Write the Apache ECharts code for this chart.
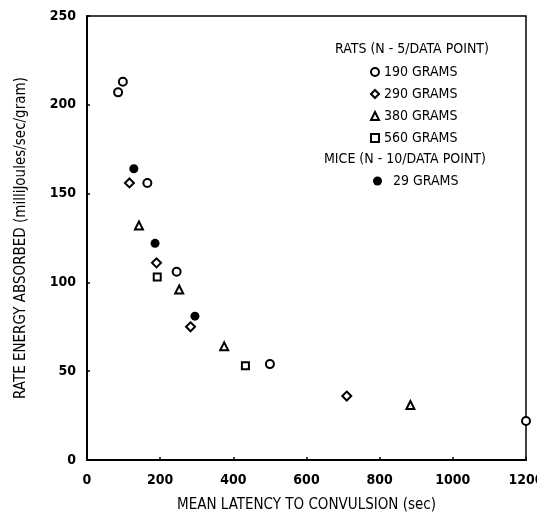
<!DOCTYPE html>
<html>
<head>
<meta charset="utf-8">
<script src="https://cdn.jsdelivr.net/npm/echarts@6/dist/echarts.min.js"></script>
<style>
  html, body { margin: 0; padding: 0; background: #fff; overflow: hidden; }
  #chart { width: 537px; height: 520px; }
</style>
</head>
<body>
<div id="chart"></div>
<script>
// values (x = latency sec, y = mJ/sec/g)
const x190 = [85, 98, 165, 245, 500, 1200];
const y190 = [207, 213, 156, 106, 54, 22];
const x290 = [116, 190, 283, 710];
const y290 = [156, 111, 75, 36];
const x380 = [142, 252, 375, 884];
const y380 = [132, 96, 64, 31];
const x560 = [192, 433];
const y560 = [103, 53];
const xMice = [128, 186, 295];
const yMice = [164, 122, 81];

const ratNames = ['190 GRAMS', '290 GRAMS', '380 GRAMS', '560 GRAMS'];
const miceName = '29 GRAMS';
const xTicks = [0, 200, 400, 600, 800, 1000, 1200];
const yTicks = [0, 50, 100, 150, 200, 250];

const font = '"Liberation Sans Narrow", "DejaVu Sans Condensed", sans-serif';
const pairs = (xs, ys) => xs.map((x, i) => [x, ys[i]]);

const chart = echarts.init(document.getElementById('chart'));

const hollow = (name, symbol, size, xs, ys) => ({
  name,
  type: 'scatter',
  symbol,
  symbolSize: size,
  clip: false,
  data: pairs(xs, ys),
  itemStyle: { color: '#fff', borderColor: '#000', borderWidth: 2, opacity: 1 }
});

const tickText = { color: '#000', fontFamily: font, fontWeight: 'bold', fontSize: 14 };
const nameText = { color: '#000', fontFamily: font, fontSize: 15 };

const option = {
  animation: false,
  backgroundColor: '#fff',
  grid: {
    left: 87, right: 11, top: 16, bottom: 60,
    outerBoundsMode: 'none',
    show: true, borderColor: '#000', borderWidth: 1.5
  },
  xAxis: {
    type: 'value', min: 0, max: 1200, interval: 200,
    name: 'MEAN LATENCY TO CONVULSION (sec)',
    nameLocation: 'middle', nameGap: 38,
    nameTextStyle: nameText,
    axisLine: { lineStyle: { color: '#000', width: 2 } },
    axisTick: { inside: true, length: 3, lineStyle: { color: '#000', width: 1.5 } },
    axisLabel: { ...tickText, margin: 13, formatter: v => xTicks.includes(v) ? String(v) : '' },
    splitLine: { show: false }
  },
  yAxis: {
    type: 'value', min: 0, max: 250, interval: 50,
    name: 'RATE ENERGY ABSORBED (milliJoules/sec/gram)',
    nameLocation: 'middle', nameGap: 58,
    nameTextStyle: nameText,
    axisLine: { show: true, lineStyle: { color: '#000', width: 2 } },
    axisTick: { show: true, inside: true, length: 3, lineStyle: { color: '#000', width: 1.5 } },
    axisLabel: { ...tickText, margin: 11, formatter: v => yTicks.includes(v) ? String(v) : '' },
    splitLine: { show: false }
  },
  legend: [
    {
      data: ratNames,
      orient: 'vertical',
      left: 370, top: 65,
      padding: 0,
      itemWidth: 8, itemHeight: 8, itemGap: 8,
      textStyle: { color: '#000', fontFamily: font, fontSize: 14, lineHeight: 14 }
    },
    {
      data: [miceName],
      orient: 'vertical',
      left: 373, top: 174,
      padding: 0,
      itemWidth: 9, itemHeight: 9, itemGap: 8,
      textStyle: { color: '#000', fontFamily: font, fontSize: 14, lineHeight: 14, padding: [0, 0, 0, 6] }
    }
  ],
  graphic: [
    { type: 'text', left: 335, top: 42,
      style: { text: 'RATS (N - 5/DATA POINT)', fill: '#000', font: '14px ' + font } },
    { type: 'text', left: 324, top: 152,
      style: { text: 'MICE (N - 10/DATA POINT)', fill: '#000', font: '14px ' + font } }
  ],
  series: [
    hollow(ratNames[0], 'circle', 8, x190, y190),
    hollow(ratNames[1], 'diamond', 9, x290, y290),
    hollow(ratNames[2], 'triangle', 8, x380, y380),
    hollow(ratNames[3], 'rect', 7, x560, y560),
    {
      name: miceName,
      type: 'scatter',
      symbol: 'circle',
      symbolSize: 9,
      data: pairs(xMice, yMice),
      itemStyle: { color: '#000', opacity: 1 }
    }
  ]
};

chart.setOption(option);
</script>
</body>
</html>
